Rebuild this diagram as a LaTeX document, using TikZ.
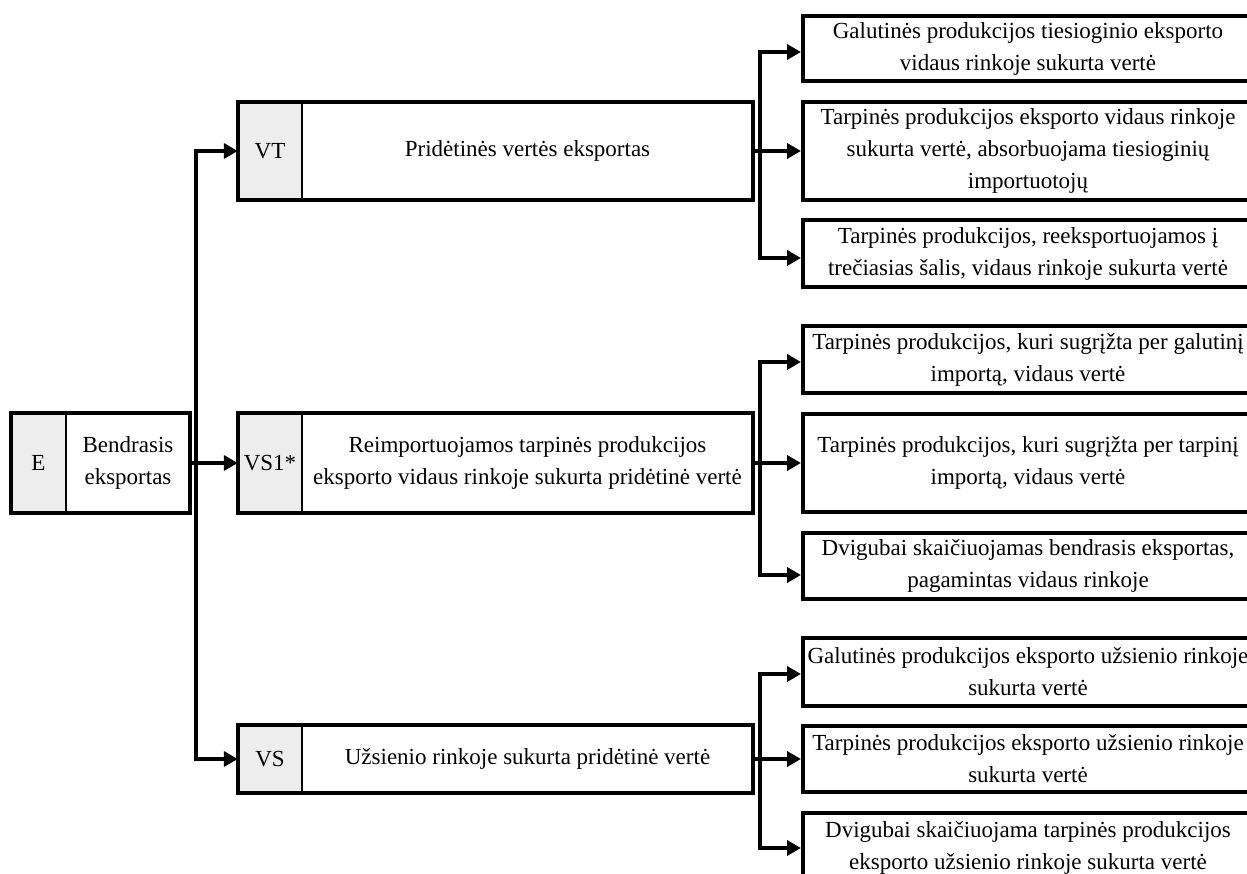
\documentclass[tikz,border=0pt]{standalone}
\usepackage{fontspec}
\setmainfont{Liberation Serif}
\usetikzlibrary{arrows.meta}
\definecolor{keygray}{HTML}{EDEDED}
\newcommand\diagfont{\fontsize{23}{32}\selectfont}
\begin{document}
\begin{tikzpicture}[x=1pt,y=-1pt,
  txt/.style={align=center, inner sep=0pt, font=\diagfont},
  keyc/.style={txt, fill=keygray},
  frame/.style={line width=4pt},
  divider/.style={line width=2.5pt},
  sub/.style={txt, draw, line width=4pt, minimum width=450},
  conn/.style={line width=4pt},
  arr/.style={conn, -{Triangle[length=14pt,width=15pt]}}]
\useasboundingbox (0,0) rectangle (1247,874);
\clip (0,0) rectangle (1247,874);

% E box
\node[keyc, minimum width=55, minimum height=100] (ek) at (38.5,463) {E};
\node[txt, minimum width=124, minimum height=100] (et) at (128,463) {Bendrasis\\eksportas};
\draw[frame] (ek.north west) rectangle (et.south east);
\draw[divider] (ek.north east) -- (ek.south east);

% VT box
\node[keyc, minimum width=64, minimum height=98] (vtk) at (270,151) {VT};
\node[txt, minimum width=451, minimum height=98] (vtt) at (527.5,151) {Pridėtinės vertės eksportas};
\draw[frame] (vtk.north west) rectangle (vtt.south east);
\draw[divider] (vtk.north east) -- (vtk.south east);

% VS1 box
\node[keyc, minimum width=64, minimum height=100] (vs1k) at (270,463) {VS1*};
\node[txt, minimum width=451, minimum height=100] (vs1t) at (527.5,463) {Reimportuojamos tarpinės produkcijos\\eksporto vidaus rinkoje sukurta pridėtinė vertė};
\draw[frame] (vs1k.north west) rectangle (vs1t.south east);
\draw[divider] (vs1k.north east) -- (vs1k.south east);

% VS box
\node[keyc, minimum width=64, minimum height=68] (vsk) at (270,759) {VS};
\node[txt, minimum width=451, minimum height=68] (vst) at (527.5,759) {Užsienio rinkoje sukurta pridėtinė vertė};
\draw[frame] (vsk.north west) rectangle (vst.south east);
\draw[divider] (vsk.north east) -- (vsk.south east);

% sub boxes group 1
\node[sub, minimum height=65] (s11) at (1028,48.5) {Galutinės produkcijos tiesioginio eksporto\\vidaus rinkoje sukurta vertė};
\node[sub, minimum height=98] (s12) at (1028,151) {Tarpinės produkcijos eksporto vidaus rinkoje\\sukurta vertė, absorbuojama tiesioginių\\importuotojų};
\node[sub, minimum height=67] (s13) at (1028,253.5) {Tarpinės produkcijos, reeksportuojamos į\\trečiasias šalis, vidaus rinkoje sukurta vertė};

% group 2
\node[sub, minimum height=67] (s21) at (1028,359.5) {Tarpinės produkcijos, kuri sugrįžta per galutinį\\importą, vidaus vertė};
\node[sub, minimum height=98] (s22) at (1028,463) {Tarpinės produkcijos, kuri sugrįžta per tarpinį\\importą, vidaus vertė};
\node[sub, minimum height=66] (s23) at (1028,566) {Dvigubai skaičiuojamas bendrasis eksportas,\\pagamintas vidaus rinkoje};

% group 3
\node[sub, minimum height=68] (s31) at (1028,672) {Galutinės produkcijos eksporto užsienio rinkoje\\sukurta vertė};
\node[sub, minimum height=66] (s32) at (1028,759) {Tarpinės produkcijos eksporto užsienio rinkoje\\sukurta vertė};
\node[sub, minimum height=70] (s33) at (1028,848) {Dvigubai skaičiuojama tarpinės produkcijos\\eksporto užsienio rinkoje sukurta vertė};

% trunk
\coordinate (t0) at (196,463);
\draw[conn] (et.east) -- (t0);
\draw[arr] (t0) |- (vtk.west);
\draw[arr] (t0) -- (vs1k.west);
\draw[arr] (t0) |- (vsk.west);

% group connectors
\coordinate (j1) at (760,151);
\draw[conn] (vtt.east) -- (j1);
\draw[arr] (j1) |- ([yshift=-3.5pt]s11.west);
\draw[arr] (j1) -- (s12.west);
\draw[arr] (j1) |- ([yshift=-4.5pt]s13.west);

\coordinate (j2) at (760,463);
\draw[conn] (vs1t.east) -- (j2);
\draw[arr] (j2) |- ([yshift=-2.5pt]s21.west);
\draw[arr] (j2) -- (s22.west);
\draw[arr] (j2) |- ([yshift=-9pt]s23.west);

\coordinate (j3) at (760,759);
\draw[conn] (vst.east) -- (j3);
\draw[arr] (j3) |- ([yshift=-2pt]s31.west);
\draw[arr] (j3) -- (s32.west);
\draw[arr] (j3) |- (s33.west);
\end{tikzpicture}
\end{document}
